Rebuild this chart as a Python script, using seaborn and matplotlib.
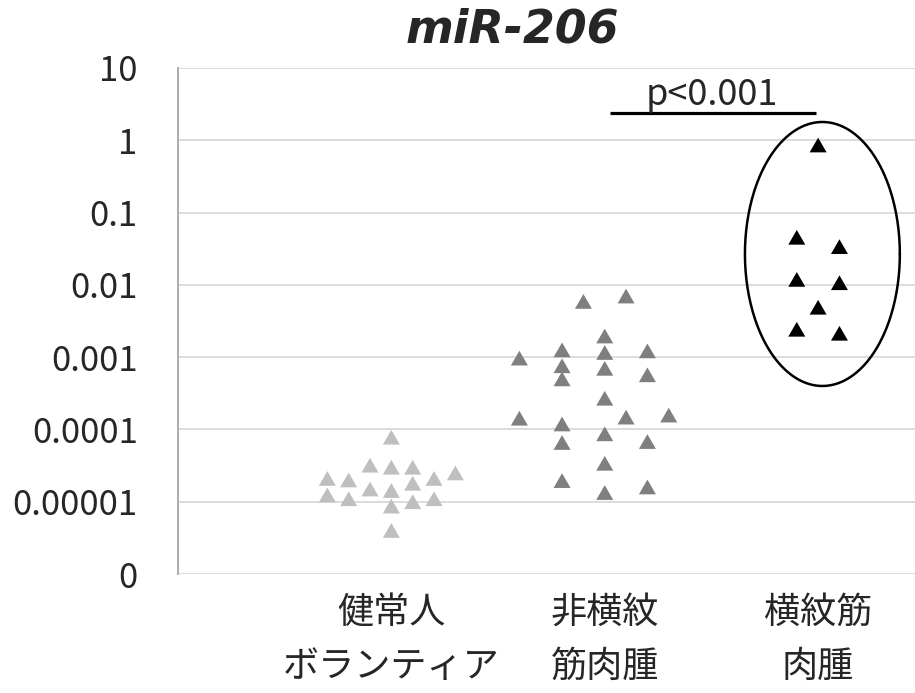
import numpy as np
import pandas as pd
import seaborn as sns
import matplotlib.pyplot as plt
from matplotlib.path import Path

# categories (x axis)
groups = ["健常人\nボランティア", "非横紋\n筋肉腫", "横紋筋\n肉腫"]
colors = ["#BFBFBF", "#7F7F7F", "#000000"]

# miR-206 values, with the column slot of each dot
healthy_vals = [7.8e-5, 2.1e-5, 1.24e-5, 2.0e-5, 1.1e-5, 3.2e-5, 1.5e-5,
                3.0e-5, 1.43e-5, 8.7e-6, 4.0e-6, 3.0e-5, 1.8e-5, 1.0e-5,
                2.1e-5, 1.1e-5, 2.5e-5]
healthy_slots = [0, -3, -3, -2, -2, -1, -1, 0, 0, 0, 0, 1, 1, 1, 2, 2, 3]

nonrms_vals = [9.7e-4, 1.43e-4,
               1.26e-3, 7.6e-4, 5.0e-4, 1.19e-4, 6.6e-5, 1.96e-5,
               5.9e-3,
               1.96e-3, 1.16e-3, 7.0e-4, 2.7e-4, 8.7e-5, 3.4e-5, 1.34e-5,
               7.0e-3, 1.48e-4,
               1.22e-3, 5.7e-4, 6.8e-5, 1.6e-5,
               1.58e-4]
nonrms_slots = [-4, -4, -2, -2, -2, -2, -2, -2, -1, 0, 0, 0, 0, 0, 0, 0,
                1, 1, 2, 2, 2, 2, 3]

rms_vals = [0.86, 0.0455, 0.0338, 0.0119, 0.0107, 0.0049, 0.00243, 0.00214]
rms_slots = [0, -1, 1, -1, 1, 0, -1, 1]

ytick_vals = [1e-6, 1e-5, 1e-4, 1e-3, 1e-2, 1e-1, 1, 10]
ytick_labels = ["0", "0.00001", "0.0001", "0.001", "0.01", "0.1", "1", "10"]

slot_w = 0.1

rows = []
for gi, (vals, slots) in enumerate([(healthy_vals, healthy_slots),
                                    (nonrms_vals, nonrms_slots),
                                    (rms_vals, rms_slots)]):
    for v, s in zip(vals, slots):
        rows.append({"group": groups[gi], "x": gi + s * slot_w, "value": v})
df = pd.DataFrame(rows)

sns.set_style("white")
plt.rcParams['font.family'] = ['Noto Sans CJK JP', 'DejaVu Sans']

fig = plt.figure(figsize=(9.15, 6.93), dpi=100)
ax = fig.add_axes([0.1945, 0.1717, 0.8055, 0.7302])

tri = Path([(-0.5, -0.433), (0.5, -0.433), (0.0, 0.433), (-0.5, -0.433)],
           [Path.MOVETO, Path.LINETO, Path.LINETO, Path.CLOSEPOLY])

sns.scatterplot(data=df, x="x", y="value", hue="group", palette=colors,
                marker=tri, s=150, linewidth=0, legend=False, ax=ax, zorder=3)

ax.set_yscale("log")
ax.set_ylim(1e-6, 10)
ax.set_xlim(-1, 2.454)
ax.set_yticks(ytick_vals)
ax.set_yticklabels(ytick_labels, fontsize=25)
ax.yaxis.set_minor_locator(plt.NullLocator())
ax.set_xticks([0, 1, 2])
ax.set_xticklabels(groups, fontsize=26, linespacing=1.65)
ax.tick_params(axis="x", length=0, pad=15)
ax.tick_params(axis="y", length=9, width=1.2, color="#BFBFBF", pad=20)
ax.set_xlabel("")
ax.set_ylabel("")

ax.grid(axis="y", color="#D9D9D9", linewidth=1.3)
ax.set_axisbelow(True)
for side in ["top", "right", "bottom"]:
    ax.spines[side].set_visible(False)
ax.spines["left"].set_color("#A6A6A6")
ax.spines["left"].set_linewidth(1.3)

# ellipse around the rhabdomyosarcoma group (drawn in log space)
t = np.linspace(0, 2 * np.pi, 300)
ex = 2.02 + 0.363 * np.cos(t)
ey = 10 ** (-1.573 + 1.826 * np.sin(t))
ax.plot(ex, ey, color="black", linewidth=1.8, zorder=4)

# significance bar
ax.plot([1.026, 1.99], [2.39, 2.39], color="black", linewidth=2.3,
        solid_capstyle="butt", clip_on=False)
ax.text(1.5, 3.08, "p<0.001", ha="center", va="baseline", fontsize=26)

fig.text(512 / 915, 1 - 30 / 693, "miR-206", ha="center", va="center",
         fontsize=33, fontweight="bold", fontstyle="italic",
         family="DejaVu Sans")

fig.savefig("out.png", dpi=100)
